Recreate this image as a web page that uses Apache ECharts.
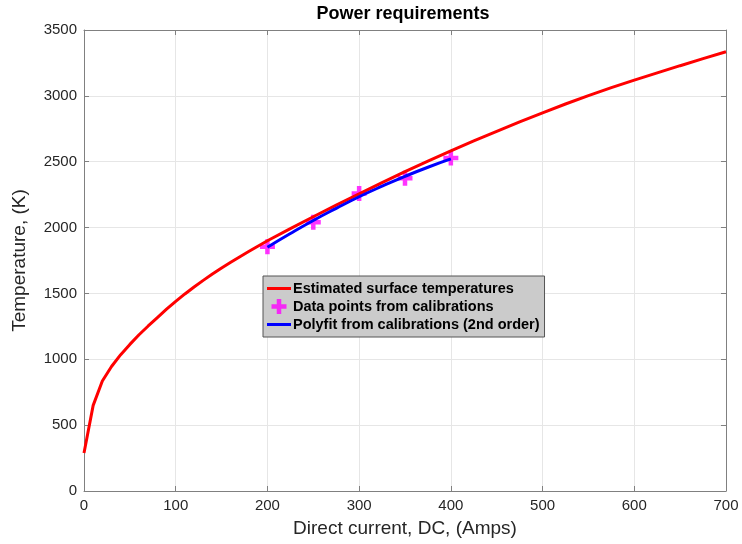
<!DOCTYPE html>
<html><head><meta charset="utf-8">
<script src="https://cdn.jsdelivr.net/npm/echarts@6/dist/echarts.min.js"></script>
<style>html,body{margin:0;padding:0;background:#fff}#c{width:742px;height:544px}</style>
</head><body><div id="c"></div>
<script>
// Estimated surface temperatures (red curve)
const estCurrent = [0,10,20,30,40,50,60,70,80,90,100,110,120,130,140,150,160,170,180,190,200,225,250,275,300,325,350,375,400,425,450,475,500,525,550,575,600,625,650,675,700];
const estTemp    = [288,650,835,945,1035,1113,1186,1253,1317,1380,1440,1496,1549,1599,1647,1693,1737,1779,1820,1860,1900,1992,2082,2170,2256,2341,2424,2504,2582,2658,2731,2802,2871,2938,3002,3062,3119,3174,3229,3283,3335];
// Calibration data points
const calCurrent = [200,250,300,350,400];
const calTemp    = [1855,2040,2258,2375,2528];
// Polyfit (2nd order) curve
const fitCurrent = [200,225,250,275,300,325,350,375,400];
const fitTemp    = [1851,1955,2054,2146,2234,2314,2389,2458,2521];
const xTicks = [0,100,200,300,400,500,600,700];
const yTicks = [0,500,1000,1500,2000,2500,3000,3500];

const zip = (a,b) => a.map((v,i)=>[v,b[i]]);
const plus = 'path://M2.8,0H5.2V2.8H8V5.2H5.2V8H2.8V5.2H0V2.8H2.8Z';
const lineIcon = 'path://M0,0H24V3H0Z';
const font = 'Liberation Sans';
const axisCol = '#808080';
const txtCol = '#262626';

const chart = echarts.init(document.getElementById('c'), null, {renderer:'canvas'});
const baseAxis = {
  type:'value', axisLine:{show:true,onZero:false,lineStyle:{color:axisCol,width:1}},
  axisTick:{show:true,inside:true,length:5,lineStyle:{color:axisCol}},
  splitLine:{show:false}
};
chart.setOption({
  animation:false,
  backgroundColor:'#fff',
  title:{text:'Power requirements',left:398,top:0,textAlign:'center',
    textStyle:{fontFamily:font,fontWeight:'bold',fontSize:18,color:'#000'}},
  grid:{left:84,right:16,top:30,bottom:53,containLabel:false},
  legend:{
    orient:'vertical',left:263,top:276,
    backgroundColor:'#cbcbcb',borderColor:'#555',borderWidth:1,
    padding:[5,5,5,4],itemGap:3,itemWidth:24,itemHeight:15,
    textStyle:{fontFamily:font,fontWeight:'bold',fontSize:14.5,color:'#000',padding:[0,0,0,-3]},
    data:[
      {name:'Estimated surface temperatures',icon:lineIcon},
      {name:'Data points from calibrations',icon:plus},
      {name:'Polyfit from calibrations (2nd order)',icon:lineIcon}
    ]
  },
  xAxis:[
    Object.assign({},baseAxis,{min:0,max:700,interval:100,position:'bottom',
      name:'Direct current, DC, (Amps)',nameLocation:'middle',nameGap:28,
      nameTextStyle:{fontFamily:font,fontSize:19,color:txtCol},
      axisLabel:{fontFamily:font,fontSize:15,color:txtCol,margin:7,
        formatter:v=>xTicks.includes(v)?String(v):''},
      splitLine:{show:true,lineStyle:{color:'#e6e6e6',width:1}}}),
    Object.assign({},baseAxis,{min:0,max:700,interval:100,position:'top',axisLabel:{show:false}})
  ],
  yAxis:[
    Object.assign({},baseAxis,{min:0,max:3500,interval:500,position:'left',
      name:'Temperature, (K)',nameLocation:'middle',nameGap:55,
      nameTextStyle:{fontFamily:font,fontSize:19,color:txtCol},
      axisLabel:{fontFamily:font,fontSize:15,color:txtCol,margin:7,
        formatter:v=>yTicks.includes(v)?String(v):''},
      splitLine:{show:true,lineStyle:{color:'#e6e6e6',width:1}}}),
    Object.assign({},baseAxis,{min:0,max:3500,interval:500,position:'right',axisLabel:{show:false}})
  ],
  series:[
    {name:'Estimated surface temperatures',type:'line',data:zip(estCurrent,estTemp),
      symbol:'none',smooth:false,lineStyle:{color:'#ff0000',width:3},itemStyle:{color:'#ff0000'}},
    {name:'Data points from calibrations',type:'scatter',data:zip(calCurrent,calTemp),
      symbol:plus,symbolSize:15,itemStyle:{color:'#ff00ff'}},
    {name:'Polyfit from calibrations (2nd order)',type:'line',data:zip(fitCurrent,fitTemp),
      symbol:'none',smooth:true,lineStyle:{color:'#0000ff',width:3},itemStyle:{color:'#0000ff'}}
  ]
});
</script></body></html>
